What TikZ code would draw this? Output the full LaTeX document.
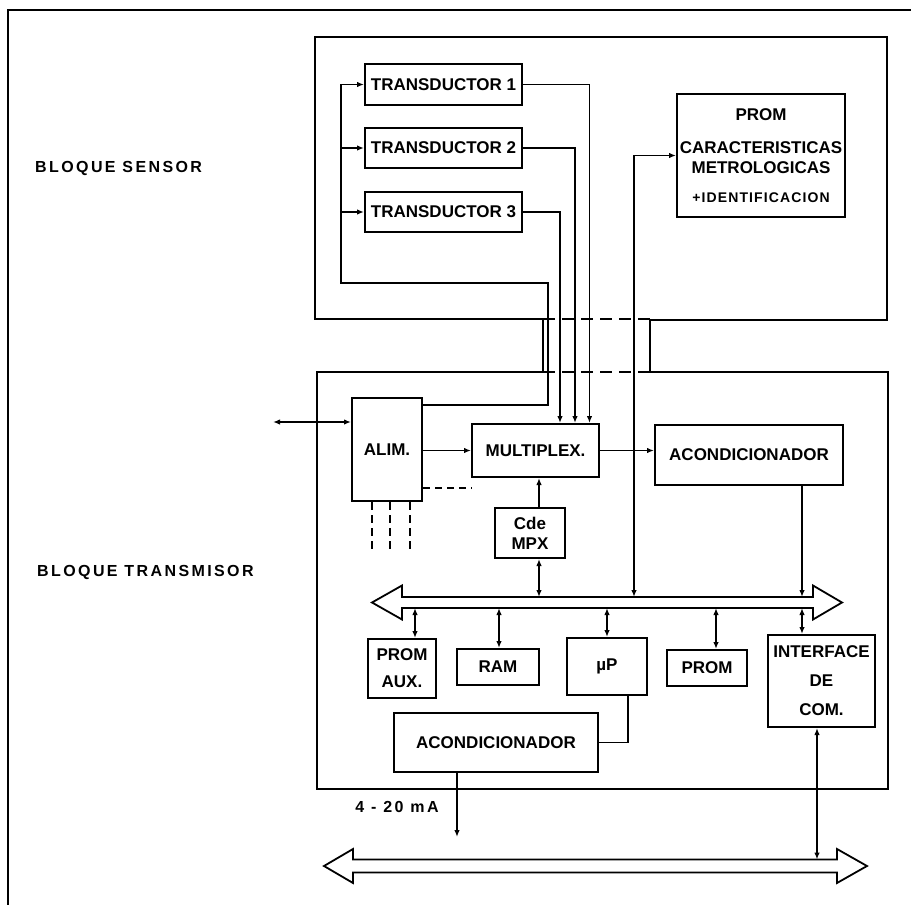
\documentclass[tikz,border=0pt]{standalone}
\usepackage{fontspec}
\setmainfont{Liberation Sans}
\newfontfamily\spacedfont[LetterSpace=15]{Liberation Sans}
\newfontfamily\identfont[LetterSpace=8]{Liberation Sans}
\usetikzlibrary{arrows.meta}
\begin{document}
\begin{tikzpicture}[x=1pt,y=-1pt,
  blk/.style={draw, line width=2pt, font=\fontsize{17}{20}\selectfont\bfseries, align=center, inner sep=0pt},
  conn/.style={line width=1.5pt},
  arr/.style={conn,-{Latex[length=7pt,width=5.5pt]}},
  dbl/.style={conn,{Latex[length=7pt,width=5.5pt]}-{Latex[length=7pt,width=5.5pt]}},
  blockline/.style={line width=2.2pt},
  busshape/.style={line width=1.8pt, fill=white, line join=miter},
  lbl/.style={inner sep=0pt, anchor=west, font=\spacedfont\fontsize{16}{18}\selectfont\bfseries}]
\useasboundingbox (0,0) rectangle (911,905);

% outer frame
\draw[line width=2.8pt] (8,905) -- (8,10) -- (911,10);

% block outlines
\draw[blockline] (543,319) -- (315,319) -- (315,37) -- (887,37) -- (887,320) -- (650,320) -- (650,372) -- (888,372) -- (888,789) -- (317,789) -- (317,372) -- (543,372) -- cycle;
\draw[blockline, dash pattern=on 12pt off 7pt] (543,319) -- (650,319) (543,372) -- (650,372);

% labels
\node[lbl] (lsens) at (35,168) {BLOQUE SENSOR};
\node[lbl] (ltrans) at (37,572) {BLOQUE TRANSMISOR};
\node[inner sep=0pt, font=\spacedfont\fontsize{16}{18}\selectfont\bfseries] (lma) at (397,807) {4 - 20 mA};

% boxes
\node[blk, minimum width=157pt, minimum height=41pt] (t1) at (443.5,84.5) {TRANSDUCTOR 1};
\node[blk, minimum width=157pt, minimum height=40pt] (t2) at (443.5,148) {TRANSDUCTOR 2};
\node[blk, minimum width=157pt, minimum height=40pt] (t3) at (443.5,212) {TRANSDUCTOR 3};
\node[blk, minimum width=168pt, minimum height=123pt] (prom1) at (761,155.5) {PROM\\[13pt]CARACTERISTICAS\\METROLOGICAS\\[9pt]{\identfont\fontsize{14}{16}\selectfont\bfseries +IDENTIFICACION}};
\node[blk, minimum width=70pt, minimum height=103pt] (alim) at (387,449.5) {ALIM.};
\node[blk, minimum width=127pt, minimum height=53pt] (mpx) at (535.5,450.5) {MULTIPLEX.};
\node[blk, minimum width=188pt, minimum height=60pt] (acond1) at (749,455) {ACONDICIONADOR};
\node[blk, minimum width=70pt, minimum height=50pt] (cde) at (530,533) {Cde\\MPX};
\node[blk, minimum width=68pt, minimum height=59pt, font=\fontsize{17}{27}\selectfont\bfseries] (paux) at (402,668.5) {PROM\\AUX.};
\node[blk, minimum width=82pt, minimum height=36pt] (ram) at (498,667) {RAM};
\node[blk, minimum width=80pt, minimum height=57pt] (up) at (607,666.5) {µP};
\node[blk, minimum width=80pt, minimum height=36pt] (prom2) at (707,668) {PROM};
\node[blk, minimum width=107pt, minimum height=92pt, font=\fontsize{17}{29}\selectfont\bfseries] (iface) at (821.5,681) {INTERFACE\\DE\\COM.};
\node[blk, minimum width=204pt, minimum height=59pt] (acond2) at (496,742.5) {ACONDICIONADOR};

% buses
\draw[busshape] (372,602.5) -- (402,585.5) -- (402,597) -- (813,597) -- (813,585.5) -- (842,602.5) -- (813,619.5) -- (813,608) -- (402,608) -- (402,619.5) -- cycle;
\draw[busshape] (324,866) -- (353,849) -- (353,859.5) -- (837,859.5) -- (837,849) -- (867,866) -- (837,883) -- (837,872.5) -- (353,872.5) -- (353,883) -- cycle;
\coordinate (b1t) at (0,597);
\coordinate (b1b) at (0,608);
\coordinate (b2t) at (0,859.5);

% supply feed to transducers
\coordinate (fa) at (548,283);
\coordinate (fb) at (341,283);
\draw[arr] ([yshift=-8pt]alim.north east) -| (fa) -- (fb) |- (t1.west);
\draw[arr] (fb |- t2.west) -- (t2.west);
\draw[arr] (fb |- t3.west) -- (t3.west);

% transducer outputs
\draw[arr] (t1.east) -| ([xshift=54pt]mpx.north);
\draw[arr] (t2.east) -| ([xshift=39.5pt]mpx.north);
\draw[arr] (t3.east) -| ([xshift=24.5pt]mpx.north);

% PROM characteristics to bus
\coordinate (pr) at (634,597);
\draw[dbl] (pr) |- (prom1.west);

% ALIM connections
\coordinate (ext) at (273,422);
\draw[dbl] (ext) -- (alim.west |- ext);
\draw[arr] (alim.east |- mpx.west) -- (mpx.west);
\coordinate (ds) at (472,488);
\draw[conn, dash pattern=on 7pt off 5pt] (alim.east |- ds) -- (ds);
\draw[conn, dash pattern=on 8pt off 5pt] ([xshift=-15pt]alim.south) -- ++(0,50);
\draw[conn, dash pattern=on 8pt off 5pt] ([xshift=3pt]alim.south) -- ++(0,50);
\draw[conn, dash pattern=on 8pt off 5pt] ([xshift=23pt]alim.south) -- ++(0,50);

% multiplexer
\draw[arr] (mpx.east) -- (acond1.west |- mpx.east);
\draw[arr] ([xshift=9pt]cde.north) -- ([xshift=9pt]cde.north |- mpx.south);
\draw[dbl] ([xshift=9pt]cde.south) -- ([xshift=9pt]cde.south |- b1t);

% acondicionador to bus
\draw[arr] ([xshift=53pt]acond1.south) -- ([xshift=53pt]acond1.south |- b1t);

% bus to peripherals
\draw[dbl] ([xshift=13pt]paux.north |- b1b) -- ([xshift=13pt]paux.north);
\draw[dbl] ([xshift=1pt]ram.north |- b1b) -- ([xshift=1pt]ram.north);
\draw[dbl] (up.north |- b1b) -- (up.north);
\draw[dbl] ([xshift=9pt]prom2.north |- b1b) -- ([xshift=9pt]prom2.north);
\draw[dbl] ([xshift=-19.5pt]iface.north |- b1b) -- ([xshift=-19.5pt]iface.north);
\draw[dbl] ([xshift=-4.5pt]iface.south) -- ([xshift=-4.5pt]iface.south |- b2t);

% microprocessor to output conditioner
\draw[conn] ([xshift=21pt]up.south) |- (acond2.east);
\coordinate (o420) at (457,837);
\draw[arr] (acond2.south -| o420) -- (o420);
\end{tikzpicture}
\end{document}
